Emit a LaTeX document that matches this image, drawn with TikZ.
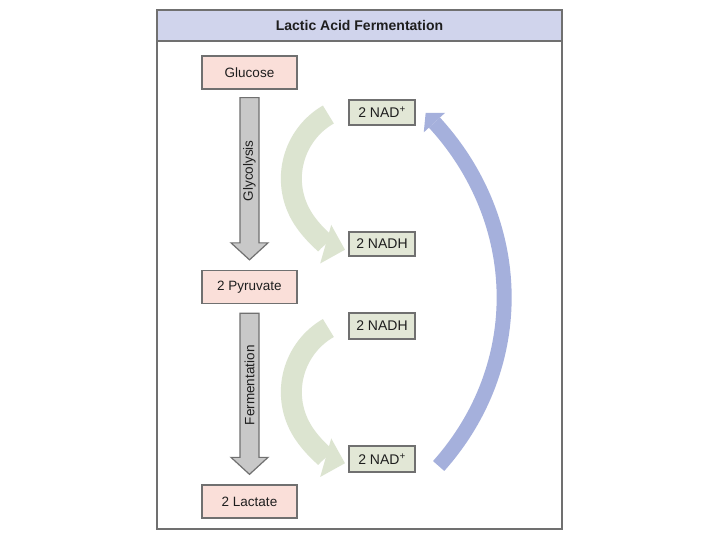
\documentclass[tikz,border=0pt]{standalone}
\usepackage{fontspec}
\setmainfont{Liberation Sans}
\usetikzlibrary{arrows.meta,calc}
\definecolor{framegray}{RGB}{112,112,112}
\definecolor{titlefill}{RGB}{208,212,236}
\definecolor{pinkfill}{RGB}{250,223,217}
\definecolor{nadfill}{RGB}{226,231,214}
\definecolor{greenarc}{RGB}{220,228,208}
\definecolor{bluearc}{RGB}{165,176,220}
\definecolor{arrowgray}{RGB}{200,200,200}
\definecolor{textdark}{RGB}{30,30,30}
\begin{document}
\begin{tikzpicture}[x=1pt,y=-1pt,
  every node/.style={text=textdark},
  framebox/.style={draw=framegray, line width=2.5pt, fill=white, minimum width=405pt, minimum height=519pt, inner sep=0pt},
  titlebar/.style={draw=framegray, line width=2pt, fill=titlefill, minimum width=405pt, minimum height=31pt, inner sep=0pt, font=\bfseries\fontsize{14}{16}\selectfont},
  pinkbox/.style={draw=framegray, line width=1.3pt, fill=pinkfill, minimum width=95pt, minimum height=33pt, inner sep=0pt, font=\fontsize{13.5}{16}\selectfont},
  nadbox/.style={draw=framegray, line width=1.3pt, fill=nadfill, minimum width=66pt, minimum height=25pt, inner sep=0pt, font=\fontsize{14}{16}\selectfont},
  grayarrow/.style={draw=framegray, line width=1.2pt, fill=arrowgray, line join=miter},
  arrowlabel/.style={font=\fontsize{13.5}{16}\selectfont, inner sep=0pt},
  greenarrow/.style={draw=greenarc, line width=21pt, -{Triangle[length=20pt,width=40pt,line width=0pt]}},
  bluearrow/.style={draw=bluearc, line width=15pt, -{Triangle[length=13pt,width=29pt,line width=0pt]}}
]
\useasboundingbox (0,0) rectangle (720,540);
\node[framebox] (frame) at (359.5,269.5) {};
\node[titlebar] (title) at (359.5,25.5) {Lactic Acid Fermentation};
\node[draw=framegray, line width=2.5pt, minimum width=405pt, minimum height=519pt, inner sep=0pt] (frameline) at (frame.center) {};

\node[pinkbox] (glucose) at (249.5,72.5) {Glucose};
\node[pinkbox] (pyruvate) at (249.5,287) {2 Pyruvate};
\node[pinkbox] (lactate) at (249.5,501.5) {2 Lactate};

\node[nadbox] (nad1) at (382,112.5) {2 NAD\textsuperscript{+}};
\node[nadbox, minimum height=24pt] (nadh1) at (382,244) {2 NADH};
\node[nadbox, minimum height=26pt] (nadh2) at (382,326) {2 NADH};
\node[nadbox, minimum height=26pt] (nad2) at (382,459) {2 NAD\textsuperscript{+}};

% gray process arrows
\draw[grayarrow] ($(glucose.south)+(-9.5,8)$) -- ($(pyruvate.north)+(-9.5,-27)$) -- ++(-9,0)
  -- ($(pyruvate.north)+(0,-10)$) -- ($(pyruvate.north)+(18.5,-27)$) -- ++(-9,0)
  -- ($(glucose.south)+(9.5,8)$) -- cycle;
\node[arrowlabel, rotate=90] (glylab) at ($(glucose.south)!0.5!(pyruvate.north)+(0,-9)$) {Glycolysis};

\draw[grayarrow] ($(pyruvate.south)+(-9.5,9)$) -- ($(lactate.north)+(-9.5,-27)$) -- ++(-9,0)
  -- ($(lactate.north)+(0,-10)$) -- ($(lactate.north)+(18.5,-27)$) -- ++(-9,0)
  -- ($(pyruvate.south)+(9.5,9)$) -- cycle;
\node[arrowlabel, rotate=90] (fermlab) at ($(pyruvate.south)!0.5!(lactate.north)+(0,-9)$) {Fermentation};

% green curved arrows
\draw[greenarrow] ($(nad1.west)+(-20,2)$) arc[start angle=240, end angle=106, radius=74];
\draw[greenarrow] ($(nadh2.west)+(-20,2)$) arc[start angle=240, end angle=106, radius=74];

% blue return arrow
\draw[bluearrow] ($(nad2.east)+(23,7)$) .. controls +(90,-101) and +(99,108) .. ($(nad1.east)+(10,0.5)$);
\end{tikzpicture}
\end{document}
